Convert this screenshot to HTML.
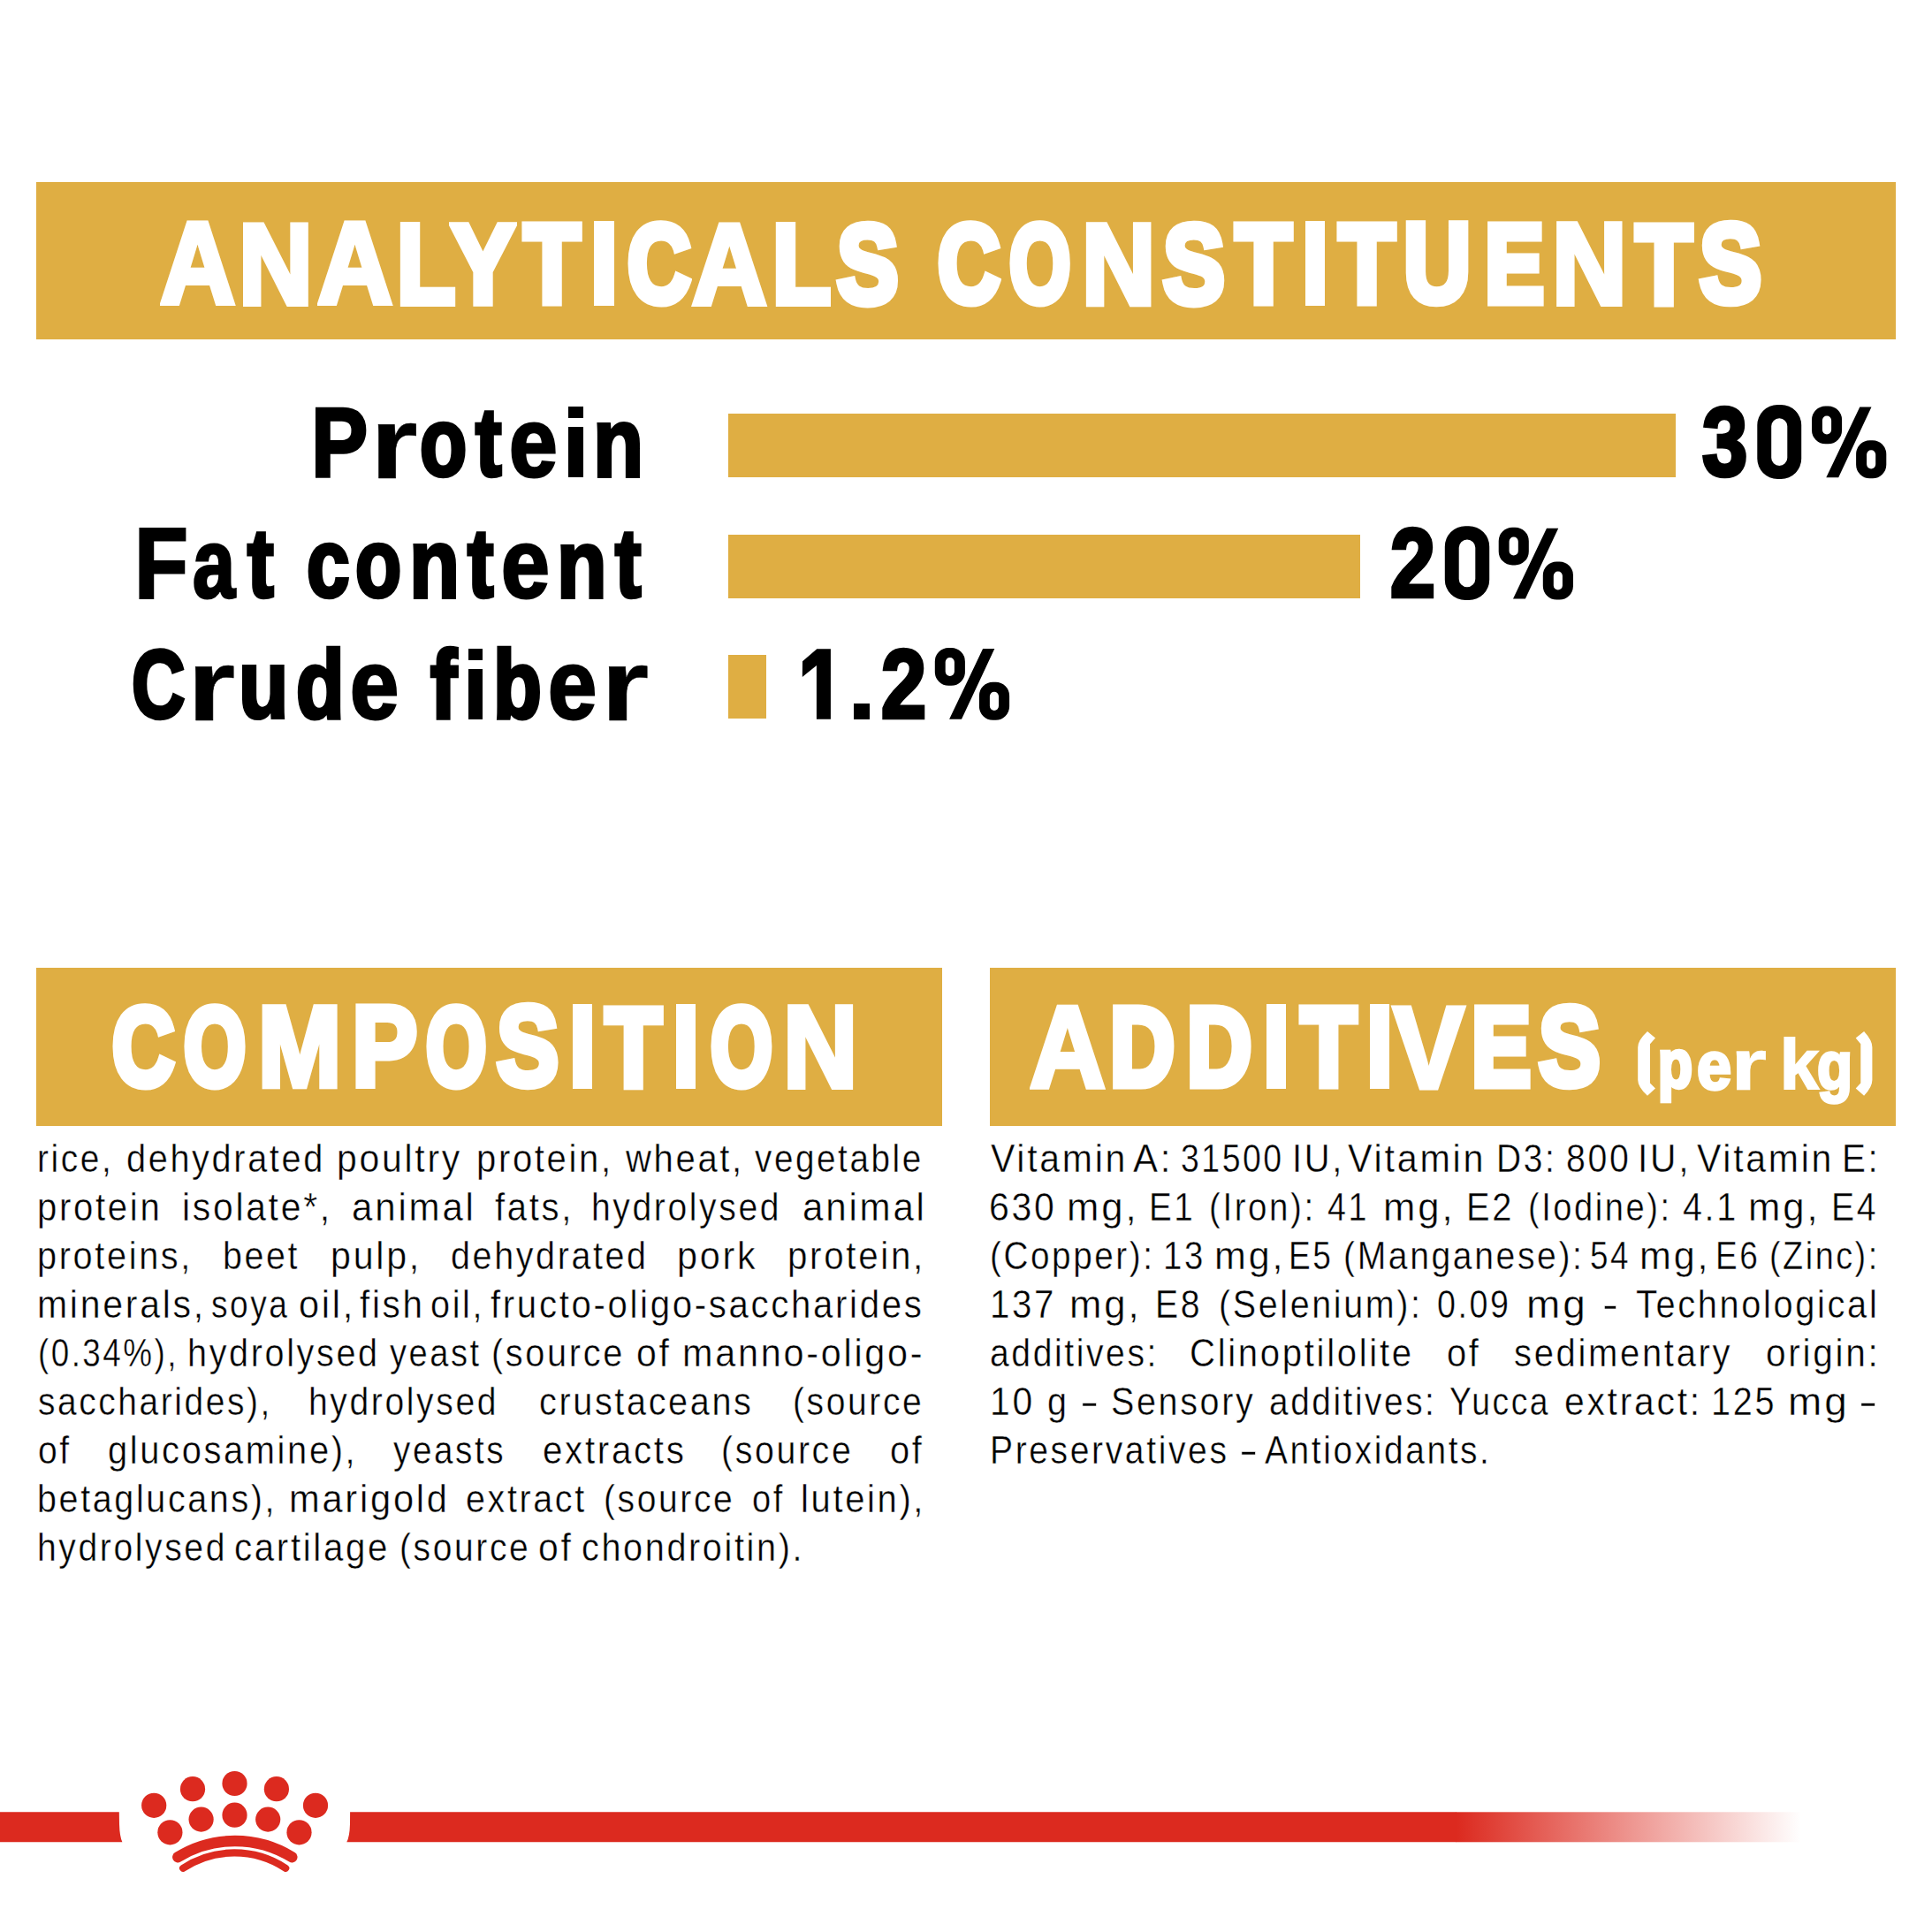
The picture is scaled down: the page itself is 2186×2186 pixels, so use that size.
<!DOCTYPE html>
<html>
<head>
<meta charset="utf-8">
<style>
html,body{margin:0;padding:0;background:#fff;}
body{width:2186px;height:2186px;position:relative;overflow:hidden;font-family:"Liberation Sans",sans-serif;}
.g{position:absolute;background:#DFAE43;}
.t{position:absolute;white-space:nowrap;line-height:1;transform-origin:0 0;font-weight:bold;}
.bl{position:absolute;white-space:nowrap;-webkit-text-stroke:0.45px #fff;font-size:45px;letter-spacing:3px;line-height:55px;height:55px;color:#000;transform-origin:0 0;}
.j{text-align:justify;text-align-last:justify;}
.pr{position:relative;top:-7px;}
.r{position:absolute;}
</style>
</head>
<body>
<div class="g" style="left:41px;top:206px;width:2104px;height:178px;"></div>
<div class="g" style="left:824px;top:468px;width:1072px;height:72px;"></div>
<div class="g" style="left:824px;top:605px;width:715px;height:72px;"></div>
<div class="g" style="left:824px;top:741px;width:43px;height:72px;"></div>
<div class="g" style="left:41px;top:1095px;width:1025px;height:179px;"></div>
<div class="g" style="left:1120px;top:1095px;width:1025px;height:179px;"></div>
<div class="t" style="left:180.81px;top:233.46px;font-size:130.97px;color:#fff;-webkit-text-stroke:5.89px #fff;transform:scaleX(0.8996);">A</div>
<div class="t" style="left:270.11px;top:233.71px;font-size:130.48px;color:#fff;-webkit-text-stroke:6.23px #fff;transform:scaleX(0.8901);">N</div>
<div class="t" style="left:358.81px;top:233.46px;font-size:130.97px;color:#fff;-webkit-text-stroke:5.89px #fff;transform:scaleX(0.8996);">A</div>
<div class="t" style="left:449.18px;top:234.95px;font-size:128.02px;color:#fff;-webkit-text-stroke:7.92px #fff;transform:scaleX(0.8455);">L</div>
<div class="t" style="left:509.86px;top:234.76px;font-size:128.39px;color:#fff;-webkit-text-stroke:7.67px #fff;transform:scaleX(0.8519);">Y</div>
<div class="t" style="left:592.68px;top:235.73px;font-size:126.45px;color:#fff;-webkit-text-stroke:9.0px #fff;transform:scaleX(0.8181);">T</div>
<div class="r" style="left:671.8px;top:250px;width:22.80px;height:96px;background:#fff;"></div>
<div class="t" style="left:709.53px;top:235.73px;font-size:126.45px;color:#fff;-webkit-text-stroke:9.0px #fff;transform:scaleX(0.7823);">C</div>
<div class="t" style="left:783.47px;top:233.57px;font-size:130.76px;color:#fff;-webkit-text-stroke:6.04px #fff;transform:scaleX(0.8954);">A</div>
<div class="t" style="left:874.32px;top:234.98px;font-size:127.94px;color:#fff;-webkit-text-stroke:7.98px #fff;transform:scaleX(0.8440);">L</div>
<div class="t" style="left:946.92px;top:235.64px;font-size:126.65px;color:#fff;-webkit-text-stroke:8.86px #fff;transform:scaleX(0.8226);">S</div>
<div class="t" style="left:1061.22px;top:235.73px;font-size:126.45px;color:#fff;-webkit-text-stroke:9.0px #fff;transform:scaleX(0.7716);">C</div>
<div class="t" style="left:1141.99px;top:235.73px;font-size:126.45px;color:#fff;-webkit-text-stroke:9.0px #fff;transform:scaleX(0.7048);">O</div>
<div class="t" style="left:1224.21px;top:233.81px;font-size:130.28px;color:#fff;-webkit-text-stroke:6.37px #fff;transform:scaleX(0.8862);">N</div>
<div class="t" style="left:1316.20px;top:235.60px;font-size:126.72px;color:#fff;-webkit-text-stroke:8.81px #fff;transform:scaleX(0.8238);">S</div>
<div class="t" style="left:1397.58px;top:235.73px;font-size:126.45px;color:#fff;-webkit-text-stroke:9.0px #fff;transform:scaleX(0.8181);">T</div>
<div class="r" style="left:1476.7px;top:250px;width:22.80px;height:96px;background:#fff;"></div>
<div class="t" style="left:1514.58px;top:235.73px;font-size:126.45px;color:#fff;-webkit-text-stroke:9.0px #fff;transform:scaleX(0.8181);">T</div>
<div class="t" style="left:1588.21px;top:235.42px;font-size:127.08px;color:#fff;-webkit-text-stroke:8.57px #fff;transform:scaleX(0.8296);">U</div>
<div class="t" style="left:1679.50px;top:235.73px;font-size:126.45px;color:#fff;-webkit-text-stroke:9.0px #fff;transform:scaleX(0.7941);">E</div>
<div class="t" style="left:1755.76px;top:233.54px;font-size:130.81px;color:#fff;-webkit-text-stroke:6.0px #fff;transform:scaleX(0.8964);">N</div>
<div class="t" style="left:1851.07px;top:235.70px;font-size:126.52px;color:#fff;-webkit-text-stroke:8.95px #fff;transform:scaleX(0.8205);">T</div>
<div class="t" style="left:1923.25px;top:235.48px;font-size:126.94px;color:#fff;-webkit-text-stroke:8.67px #fff;transform:scaleX(0.8272);">S</div>
<div class="t" style="left:127.22px;top:1121.73px;font-size:126.45px;color:#fff;-webkit-text-stroke:9.0px #fff;transform:scaleX(0.7684);">C</div>
<div class="t" style="left:208.19px;top:1121.73px;font-size:126.45px;color:#fff;-webkit-text-stroke:9.0px #fff;transform:scaleX(0.7128);">O</div>
<div class="t" style="left:291.72px;top:1120.00px;font-size:129.89px;color:#fff;-webkit-text-stroke:6.64px #fff;transform:scaleX(0.8710);">M</div>
<div class="t" style="left:397.61px;top:1120.21px;font-size:129.47px;color:#fff;-webkit-text-stroke:6.93px #fff;transform:scaleX(0.8633);">P</div>
<div class="t" style="left:481.88px;top:1121.73px;font-size:126.45px;color:#fff;-webkit-text-stroke:9.0px #fff;transform:scaleX(0.6958);">O</div>
<div class="t" style="left:562.33px;top:1121.29px;font-size:127.33px;color:#fff;-webkit-text-stroke:8.4px #fff;transform:scaleX(0.8263);">S</div>
<div class="r" style="left:647.6px;top:1136px;width:22.10px;height:96px;background:#fff;"></div>
<div class="t" style="left:685.17px;top:1121.53px;font-size:126.85px;color:#fff;-webkit-text-stroke:8.73px #fff;transform:scaleX(0.8183);">T</div>
<div class="r" style="left:764.8px;top:1136px;width:22.10px;height:96px;background:#fff;"></div>
<div class="t" style="left:803.59px;top:1121.73px;font-size:126.45px;color:#fff;-webkit-text-stroke:9.0px #fff;transform:scaleX(0.7108);">O</div>
<div class="t" style="left:885.82px;top:1119.46px;font-size:130.98px;color:#fff;-webkit-text-stroke:5.88px #fff;transform:scaleX(0.8918);">N</div>
<div class="t" style="left:1164.63px;top:1119.18px;font-size:131.54px;color:#fff;-webkit-text-stroke:5.5px #fff;transform:scaleX(0.9027);">A</div>
<div class="t" style="left:1256.28px;top:1121.73px;font-size:126.45px;color:#fff;-webkit-text-stroke:9.0px #fff;transform:scaleX(0.7997);">D</div>
<div class="t" style="left:1343.37px;top:1121.73px;font-size:126.45px;color:#fff;-webkit-text-stroke:9.0px #fff;transform:scaleX(0.8020);">D</div>
<div class="r" style="left:1433px;top:1136px;width:22.10px;height:96px;background:#fff;"></div>
<div class="t" style="left:1471.65px;top:1121.73px;font-size:126.45px;color:#fff;-webkit-text-stroke:9.0px #fff;transform:scaleX(0.8111);">T</div>
<div class="r" style="left:1549.5px;top:1136px;width:22.50px;height:96px;background:#fff;"></div>
<div class="t" style="left:1576.28px;top:1118.78px;font-size:132.32px;color:#fff;-webkit-text-stroke:4.96px #fff;transform:scaleX(0.9184);">V</div>
<div class="t" style="left:1664.90px;top:1121.73px;font-size:126.45px;color:#fff;-webkit-text-stroke:9.0px #fff;transform:scaleX(0.7941);">E</div>
<div class="t" style="left:1741.20px;top:1121.43px;font-size:127.05px;color:#fff;-webkit-text-stroke:8.59px #fff;transform:scaleX(0.8216);">S</div>
<div class="t" style="left:352.46px;top:445.33px;font-size:111.33px;color:#000;-webkit-text-stroke:3.41px #000;transform:scaleX(0.8647);">P</div>
<div class="t" style="left:418.66px;top:443.21px;font-size:115.55px;color:#000;-webkit-text-stroke:0.5px #000;transform:scaleX(1.1964);">r</div>
<div class="t" style="left:475.26px;top:446.13px;font-size:109.74px;color:#000;-webkit-text-stroke:4.5px #000;transform:scaleX(0.7936);">o</div>
<div class="t" style="left:537.52px;top:446.13px;font-size:109.74px;color:#000;-webkit-text-stroke:4.5px #000;transform:scaleX(0.8072);">t</div>
<div class="t" style="left:576.35px;top:445.05px;font-size:111.9px;color:#000;-webkit-text-stroke:3.01px #000;transform:scaleX(0.8786);">e</div>
<div class="r" style="left:642.7px;top:460.00px;width:17.20px;height:13.4px;background:#000;"></div>
<div class="r" style="left:642.7px;top:483.00px;width:17.20px;height:57px;background:#000;"></div>
<div class="t" style="left:670.83px;top:445.73px;font-size:110.53px;color:#000;-webkit-text-stroke:3.96px #000;transform:scaleX(0.8459);">n</div>
<div class="t" style="left:152.11px;top:582.08px;font-size:112.24px;color:#000;-webkit-text-stroke:2.78px #000;transform:scaleX(0.8870);">F</div>
<div class="t" style="left:217.69px;top:582.38px;font-size:111.63px;color:#000;-webkit-text-stroke:3.2px #000;transform:scaleX(0.7736);">a</div>
<div class="t" style="left:280.12px;top:583.33px;font-size:109.74px;color:#000;-webkit-text-stroke:4.5px #000;transform:scaleX(0.8097);">t</div>
<div class="t" style="left:346.96px;top:583.33px;font-size:109.74px;color:#000;-webkit-text-stroke:4.5px #000;transform:scaleX(0.7950);">c</div>
<div class="t" style="left:401.68px;top:583.33px;font-size:109.74px;color:#000;-webkit-text-stroke:4.5px #000;transform:scaleX(0.7781);">o</div>
<div class="t" style="left:462.73px;top:582.93px;font-size:110.53px;color:#000;-webkit-text-stroke:3.96px #000;transform:scaleX(0.8459);">n</div>
<div class="t" style="left:529.41px;top:583.33px;font-size:109.74px;color:#000;-webkit-text-stroke:4.5px #000;transform:scaleX(0.8048);">t</div>
<div class="t" style="left:567.22px;top:582.21px;font-size:111.98px;color:#000;-webkit-text-stroke:2.96px #000;transform:scaleX(0.8804);">e</div>
<div class="t" style="left:630.04px;top:583.07px;font-size:110.27px;color:#000;-webkit-text-stroke:4.13px #000;transform:scaleX(0.8403);">n</div>
<div class="t" style="left:696.21px;top:583.33px;font-size:109.74px;color:#000;-webkit-text-stroke:4.5px #000;transform:scaleX(0.8048);">t</div>
<div class="t" style="left:148.70px;top:719.63px;font-size:109.74px;color:#000;-webkit-text-stroke:4.5px #000;transform:scaleX(0.7618);">C</div>
<div class="t" style="left:212.38px;top:716.71px;font-size:115.55px;color:#000;-webkit-text-stroke:0.5px #000;transform:scaleX(1.2073);">r</div>
<div class="t" style="left:269.93px;top:719.41px;font-size:110.19px;color:#000;-webkit-text-stroke:4.19px #000;transform:scaleX(0.8383);">u</div>
<div class="t" style="left:335.34px;top:719.63px;font-size:109.74px;color:#000;-webkit-text-stroke:4.5px #000;transform:scaleX(0.8136);">d</div>
<div class="t" style="left:395.76px;top:718.43px;font-size:112.13px;color:#000;-webkit-text-stroke:2.85px #000;transform:scaleX(0.8843);">e</div>
<div class="t" style="left:487.14px;top:719.63px;font-size:109.74px;color:#000;-webkit-text-stroke:4.5px #000;transform:scaleX(0.8196);">f</div>
<div class="r" style="left:529.6px;top:733.50px;width:16.80px;height:13.4px;background:#000;"></div>
<div class="r" style="left:529.6px;top:756.50px;width:16.80px;height:57px;background:#000;"></div>
<div class="t" style="left:558.33px;top:719.63px;font-size:109.74px;color:#000;-webkit-text-stroke:4.5px #000;transform:scaleX(0.8185);">b</div>
<div class="t" style="left:620.26px;top:718.43px;font-size:112.13px;color:#000;-webkit-text-stroke:2.85px #000;transform:scaleX(0.8843);">e</div>
<div class="t" style="left:679.58px;top:716.71px;font-size:115.55px;color:#000;-webkit-text-stroke:0.5px #000;transform:scaleX(1.2073);">r</div>
<div class="t" style="left:1926.15px;top:446.13px;font-size:109.74px;color:#000;-webkit-text-stroke:4.5px #000;transform:scaleX(0.8398);">3</div>
<svg class="r" style="left:0;top:0;" width="2186" height="900"><path fill-rule="evenodd" d="M2011.25 458.10 L2015.25 458.10 A22.95 22.95 0 0 1 2038.20 481.05 L2038.20 518.95 A22.95 22.95 0 0 1 2015.25 541.90 L2011.25 541.90 A22.95 22.95 0 0 1 1988.30 518.95 L1988.30 481.05 A22.95 22.95 0 0 1 2011.25 458.10 Z M2013.25 473.30 L2013.25 473.30 A9.05 9.05 0 0 1 2022.30 482.35 L2022.30 517.95 A9.05 9.05 0 0 1 2013.25 527.00 L2013.25 527.00 A9.05 9.05 0 0 1 2004.20 517.95 L2004.20 482.35 A9.05 9.05 0 0 1 2013.25 473.30 Z" fill="#000"/></svg>
<svg class="r" style="left:0;top:0;" width="2186" height="900"><path fill-rule="evenodd" d="M2065.50 459.50 L2068.60 459.50 A15.50 15.50 0 0 1 2084.10 475.00 L2084.10 486.70 A15.50 15.50 0 0 1 2068.60 502.20 L2065.50 502.20 A15.50 15.50 0 0 1 2050.00 486.70 L2050.00 475.00 A15.50 15.50 0 0 1 2065.50 459.50 Z M2067.00 470.40 L2067.00 470.40 A5.10 5.10 0 0 1 2072.10 475.50 L2072.10 486.30 A5.10 5.10 0 0 1 2067.00 491.40 L2067.00 491.40 A5.10 5.10 0 0 1 2061.90 486.30 L2061.90 475.50 A5.10 5.10 0 0 1 2067.00 470.40 Z M2115.60 498.30 L2118.80 498.30 A15.50 15.50 0 0 1 2134.30 513.80 L2134.30 525.80 A15.50 15.50 0 0 1 2118.80 541.30 L2115.60 541.30 A15.50 15.50 0 0 1 2100.10 525.80 L2100.10 513.80 A15.50 15.50 0 0 1 2115.60 498.30 Z M2117.15 509.20 L2117.15 509.20 A5.05 5.05 0 0 1 2122.20 514.25 L2122.20 525.35 A5.05 5.05 0 0 1 2117.15 530.40 L2117.15 530.40 A5.05 5.05 0 0 1 2112.10 525.35 L2112.10 514.25 A5.05 5.05 0 0 1 2117.15 509.20 Z M2104.30 460.60 L2117.50 460.60 L2080.20 540.30 L2066.30 540.30 Z" fill="#000"/></svg>
<div class="t" style="left:1572.91px;top:583.33px;font-size:109.74px;color:#000;-webkit-text-stroke:4.5px #000;transform:scaleX(0.8354);">2</div>
<svg class="r" style="left:0;top:0;" width="2186" height="900"><path fill-rule="evenodd" d="M1657.98 595.30 L1662.02 595.30 A23.18 23.18 0 0 1 1685.20 618.48 L1685.20 655.92 A23.18 23.18 0 0 1 1662.02 679.10 L1657.98 679.10 A23.18 23.18 0 0 1 1634.80 655.92 L1634.80 618.48 A23.18 23.18 0 0 1 1657.98 595.30 Z M1660.00 610.50 L1660.00 610.50 A9.30 9.30 0 0 1 1669.30 619.80 L1669.30 654.90 A9.30 9.30 0 0 1 1660.00 664.20 L1660.00 664.20 A9.30 9.30 0 0 1 1650.70 654.90 L1650.70 619.80 A9.30 9.30 0 0 1 1660.00 610.50 Z" fill="#000"/></svg>
<svg class="r" style="left:0;top:0;" width="2186" height="900"><path fill-rule="evenodd" d="M1711.20 596.70 L1714.30 596.70 A15.50 15.50 0 0 1 1729.80 612.20 L1729.80 623.90 A15.50 15.50 0 0 1 1714.30 639.40 L1711.20 639.40 A15.50 15.50 0 0 1 1695.70 623.90 L1695.70 612.20 A15.50 15.50 0 0 1 1711.20 596.70 Z M1712.70 607.60 L1712.70 607.60 A5.10 5.10 0 0 1 1717.80 612.70 L1717.80 623.50 A5.10 5.10 0 0 1 1712.70 628.60 L1712.70 628.60 A5.10 5.10 0 0 1 1707.60 623.50 L1707.60 612.70 A5.10 5.10 0 0 1 1712.70 607.60 Z M1761.30 635.50 L1764.50 635.50 A15.50 15.50 0 0 1 1780.00 651.00 L1780.00 663.00 A15.50 15.50 0 0 1 1764.50 678.50 L1761.30 678.50 A15.50 15.50 0 0 1 1745.80 663.00 L1745.80 651.00 A15.50 15.50 0 0 1 1761.30 635.50 Z M1762.85 646.40 L1762.85 646.40 A5.05 5.05 0 0 1 1767.90 651.45 L1767.90 662.55 A5.05 5.05 0 0 1 1762.85 667.60 L1762.85 667.60 A5.05 5.05 0 0 1 1757.80 662.55 L1757.80 651.45 A5.05 5.05 0 0 1 1762.85 646.40 Z M1750.00 597.80 L1763.20 597.80 L1725.90 677.50 L1712.00 677.50 Z" fill="#000"/></svg>
<svg class="r" style="left:0;top:0;" width="1000" height="820" viewBox="0 0 1000 820"><path d="M924.3 734.2 L939.9 734.2 L939.9 813.8 L923.9 813.8 L923.9 753 L907.8 765.9 L908 748.3 Z" fill="#000"/></svg>
<div class="r" style="left:965.6px;top:796.2px;width:18.3px;height:17.6px;background:#000;"></div>
<div class="t" style="left:996.71px;top:719.63px;font-size:109.74px;color:#000;-webkit-text-stroke:4.5px #000;transform:scaleX(0.8371);">2</div>
<svg class="r" style="left:0;top:0;" width="2186" height="900"><path fill-rule="evenodd" d="M1073.30 733.00 L1076.40 733.00 A15.50 15.50 0 0 1 1091.90 748.50 L1091.90 760.20 A15.50 15.50 0 0 1 1076.40 775.70 L1073.30 775.70 A15.50 15.50 0 0 1 1057.80 760.20 L1057.80 748.50 A15.50 15.50 0 0 1 1073.30 733.00 Z M1074.80 743.90 L1074.80 743.90 A5.10 5.10 0 0 1 1079.90 749.00 L1079.90 759.80 A5.10 5.10 0 0 1 1074.80 764.90 L1074.80 764.90 A5.10 5.10 0 0 1 1069.70 759.80 L1069.70 749.00 A5.10 5.10 0 0 1 1074.80 743.90 Z M1123.40 771.80 L1126.60 771.80 A15.50 15.50 0 0 1 1142.10 787.30 L1142.10 799.30 A15.50 15.50 0 0 1 1126.60 814.80 L1123.40 814.80 A15.50 15.50 0 0 1 1107.90 799.30 L1107.90 787.30 A15.50 15.50 0 0 1 1123.40 771.80 Z M1124.95 782.70 L1124.95 782.70 A5.05 5.05 0 0 1 1130.00 787.75 L1130.00 798.85 A5.05 5.05 0 0 1 1124.95 803.90 L1124.95 803.90 A5.05 5.05 0 0 1 1119.90 798.85 L1119.90 787.75 A5.05 5.05 0 0 1 1124.95 782.70 Z M1112.10 734.10 L1125.30 734.10 L1088.00 813.80 L1074.10 813.80 Z" fill="#000"/></svg>
<svg class="r" style="left:0;top:0;" width="2186" height="1300"><path d="M1864 1167 L1873 1174.5 L1867 1181.3 L1867 1225.5 L1873 1231.6 L1864 1239.8 Q1853.2 1230 1853.2 1222 L1853.2 1185 Q1853.2 1177 1864 1167 Z" fill="#fff"/></svg>
<div class="t" style="left:1876.22px;top:1167.49px;font-size:75.42px;color:#fff;-webkit-text-stroke:4.5px #fff;transform:scaleX(0.8458);">p</div>
<div class="t" style="left:1919.71px;top:1166.81px;font-size:76.82px;color:#fff;-webkit-text-stroke:3.5px #fff;transform:scaleX(0.9139);">e</div>
<div class="t" style="left:1957.50px;top:1164.76px;font-size:81.01px;color:#fff;-webkit-text-stroke:0.5px #fff;transform:scaleX(1.3093);">r</div>
<div class="t" style="left:2014.01px;top:1165.82px;font-size:78.85px;color:#fff;-webkit-text-stroke:2.04px #fff;transform:scaleX(0.9960);">k</div>
<div class="t" style="left:2056.34px;top:1166.81px;font-size:76.82px;color:#fff;-webkit-text-stroke:3.5px #fff;transform:scaleX(0.8536);">g</div>
<svg class="r" style="left:0;top:0;" width="2186" height="1300"><path d="M2109.1 1167 L2099.7 1174.5 L2105.3 1181.3 L2105.3 1225.5 L2099.7 1231.6 L2109.1 1239.8 Q2118.4 1230 2118.4 1222 L2118.4 1185 Q2118.4 1177 2109.1 1167 Z" fill="#fff"/></svg>
<div class="bl" style="left:42.47px;top:1282.90px;transform:scaleX(0.8633);">rice,</div>
<div class="bl" style="left:143.12px;top:1282.90px;transform:scaleX(0.8814);">dehydrated</div>
<div class="bl" style="left:381.48px;top:1282.90px;transform:scaleX(0.9098);">poultry</div>
<div class="bl" style="left:538.62px;top:1282.90px;transform:scaleX(0.8889);">protein,</div>
<div class="bl" style="left:707.79px;top:1282.90px;transform:scaleX(0.8892);">wheat,</div>
<div class="bl" style="left:854.10px;top:1282.90px;transform:scaleX(0.8586);">vegetable</div>
<div class="bl" style="left:42.42px;top:1337.90px;transform:scaleX(0.8920);">protein</div>
<div class="bl" style="left:206.38px;top:1337.90px;transform:scaleX(0.9077);">isolate*,</div>
<div class="bl" style="left:397.97px;top:1337.90px;transform:scaleX(0.9348);">animal</div>
<div class="bl" style="left:560.20px;top:1337.90px;transform:scaleX(0.8895);">fats,</div>
<div class="bl" style="left:669.39px;top:1337.90px;transform:scaleX(0.8686);">hydrolysed</div>
<div class="bl" style="left:907.77px;top:1337.90px;transform:scaleX(0.9348);">animal</div>
<div class="bl" style="left:42.44px;top:1392.90px;transform:scaleX(0.8818);">proteins,</div>
<div class="bl" style="left:251.55px;top:1392.90px;transform:scaleX(0.8750);">beet</div>
<div class="bl" style="left:373.67px;top:1392.90px;transform:scaleX(0.9147);">pulp,</div>
<div class="bl" style="left:509.92px;top:1392.90px;transform:scaleX(0.8766);">dehydrated</div>
<div class="bl" style="left:766.46px;top:1392.90px;transform:scaleX(0.9196);">pork</div>
<div class="bl" style="left:891.31px;top:1392.90px;transform:scaleX(0.8956);">protein,</div>
<div class="bl" style="left:42.38px;top:1447.90px;transform:scaleX(0.9107);">minerals,</div>
<div class="bl" style="left:239.48px;top:1447.90px;transform:scaleX(0.8248);">soya</div>
<div class="bl" style="left:338.18px;top:1447.90px;transform:scaleX(0.9223);">oil,</div>
<div class="bl" style="left:406.70px;top:1447.90px;transform:scaleX(0.8987);">fish</div>
<div class="bl" style="left:486.52px;top:1447.90px;transform:scaleX(0.8803);">oil,</div>
<div class="bl" style="left:555.00px;top:1447.90px;transform:scaleX(0.8921);">fructo-oligo-saccharides</div>
<div class="bl" style="left:42.56px;top:1502.90px;transform:scaleX(0.8186);">(0.34%),</div>
<div class="bl" style="left:211.66px;top:1502.90px;transform:scaleX(0.8790);">hydrolysed</div>
<div class="bl" style="left:440.50px;top:1502.90px;transform:scaleX(0.8455);">yeast</div>
<div class="bl" style="left:555.84px;top:1502.90px;transform:scaleX(0.8823);">(source</div>
<div class="bl" style="left:720.49px;top:1502.90px;transform:scaleX(0.9119);">of</div>
<div class="bl" style="left:771.66px;top:1502.90px;transform:scaleX(0.9186);">manno-oligo-</div>
<div class="bl" style="left:43.34px;top:1557.90px;transform:scaleX(0.8643);">saccharides),</div>
<div class="bl" style="left:349.49px;top:1557.90px;transform:scaleX(0.8686);">hydrolysed</div>
<div class="bl" style="left:610.32px;top:1557.90px;transform:scaleX(0.8800);">crustaceans</div>
<div class="bl" style="left:896.57px;top:1557.90px;transform:scaleX(0.8671);">(source</div>
<div class="bl" style="left:43.33px;top:1612.90px;transform:scaleX(0.8694);">of</div>
<div class="bl" style="left:122.32px;top:1612.90px;transform:scaleX(0.8847);">glucosamine),</div>
<div class="bl" style="left:444.70px;top:1612.90px;transform:scaleX(0.8589);">yeasts</div>
<div class="bl" style="left:613.90px;top:1612.90px;transform:scaleX(0.8952);">extracts</div>
<div class="bl" style="left:815.95px;top:1612.90px;transform:scaleX(0.8732);">(source</div>
<div class="bl" style="left:1006.62px;top:1612.90px;transform:scaleX(0.8844);">of</div>
<div class="bl" style="left:42.45px;top:1667.90px;transform:scaleX(0.8770);">betaglucans),</div>
<div class="bl" style="left:326.85px;top:1667.90px;transform:scaleX(0.9248);">marigold</div>
<div class="bl" style="left:527.02px;top:1667.90px;transform:scaleX(0.8765);">extract</div>
<div class="bl" style="left:683.27px;top:1667.90px;transform:scaleX(0.8671);">(source</div>
<div class="bl" style="left:850.66px;top:1667.90px;transform:scaleX(0.8444);">of</div>
<div class="bl" style="left:906.04px;top:1667.90px;transform:scaleX(0.8872);">lutein),</div>
<div class="bl" style="left:41.60px;top:1722.90px;transform:scaleX(0.8681);">hydrolysed</div>
<div class="bl" style="left:265.41px;top:1722.90px;transform:scaleX(0.8935);">cartilage</div>
<div class="bl" style="left:451.77px;top:1722.90px;transform:scaleX(0.8671);">(source</div>
<div class="bl" style="left:608.69px;top:1722.90px;transform:scaleX(0.9094);">of</div>
<div class="bl" style="left:658.12px;top:1722.90px;transform:scaleX(0.8795);">chondroitin).</div>
<div class="bl" style="left:1121.30px;top:1282.90px;transform:scaleX(0.9110);">Vitamin</div>
<div class="bl" style="left:1282.30px;top:1282.90px;transform:scaleX(0.9330);">A:</div>
<div class="bl" style="left:1336.37px;top:1282.90px;transform:scaleX(0.8319);">31500</div>
<div class="bl" style="left:1461.76px;top:1282.90px;transform:scaleX(0.8857);">IU,</div>
<div class="bl" style="left:1525.40px;top:1282.90px;transform:scaleX(0.9176);">Vitamin</div>
<div class="bl" style="left:1692.71px;top:1282.90px;transform:scaleX(0.8644);">D3:</div>
<div class="bl" style="left:1771.73px;top:1282.90px;transform:scaleX(0.8728);">800</div>
<div class="bl" style="left:1852.68px;top:1282.90px;transform:scaleX(0.9054);">IU,</div>
<div class="bl" style="left:1920.10px;top:1282.90px;transform:scaleX(0.9110);">Vitamin</div>
<div class="bl" style="left:2083.61px;top:1282.90px;transform:scaleX(0.8971);">E:</div>
<div class="bl" style="left:1119.48px;top:1337.90px;transform:scaleX(0.9109);">630</div>
<div class="bl" style="left:1207.16px;top:1337.90px;transform:scaleX(0.9694);">mg,</div>
<div class="bl" style="left:1299.53px;top:1337.90px;transform:scaleX(0.8583);">E1</div>
<div class="bl" style="left:1368.39px;top:1337.90px;transform:scaleX(0.8558);">(Iron):</div>
<div class="bl" style="left:1502.06px;top:1337.90px;transform:scaleX(0.8356);">41</div>
<div class="bl" style="left:1565.26px;top:1337.90px;transform:scaleX(0.9694);">mg,</div>
<div class="bl" style="left:1658.64px;top:1337.90px;transform:scaleX(0.8865);">E2</div>
<div class="bl" style="left:1729.11px;top:1337.90px;transform:scaleX(0.8460);">(Iodine):</div>
<div class="bl" style="left:1903.52px;top:1337.90px;transform:scaleX(0.8775);">4.1</div>
<div class="bl" style="left:1978.26px;top:1337.90px;transform:scaleX(0.9694);">mg,</div>
<div class="bl" style="left:2071.69px;top:1337.90px;transform:scaleX(0.8701);">E4</div>
<div class="bl" style="left:1119.58px;top:1392.90px;transform:scaleX(0.8597);">(Copper):</div>
<div class="bl" style="left:1316.34px;top:1392.90px;transform:scaleX(0.8526);">13</div>
<div class="bl" style="left:1374.49px;top:1392.90px;transform:scaleX(0.9548);">mg,</div>
<div class="bl" style="left:1457.53px;top:1392.90px;transform:scaleX(0.8239);">E5</div>
<div class="bl" style="left:1519.96px;top:1392.90px;transform:scaleX(0.8688);">(Manganese):</div>
<div class="bl" style="left:1798.98px;top:1392.90px;transform:scaleX(0.8192);">54</div>
<div class="bl" style="left:1855.39px;top:1392.90px;transform:scaleX(0.9561);">mg,</div>
<div class="bl" style="left:1941.13px;top:1392.90px;transform:scaleX(0.8220);">E6</div>
<div class="bl" style="left:2002.02px;top:1392.90px;transform:scaleX(0.8401);">(Zinc):</div>
<div class="bl" style="left:1120.12px;top:1447.90px;transform:scaleX(0.8941);">137</div>
<div class="bl" style="left:1209.76px;top:1447.90px;transform:scaleX(0.9694);">mg,</div>
<div class="bl" style="left:1306.89px;top:1447.90px;transform:scaleX(0.8701);">E8</div>
<div class="bl" style="left:1378.85px;top:1447.90px;transform:scaleX(0.8768);">(Selenium):</div>
<div class="bl" style="left:1626.46px;top:1447.90px;transform:scaleX(0.8380);">0.09</div>
<div class="bl" style="left:1727.26px;top:1447.90px;transform:scaleX(1.0198);">mg</div>
<div class="bl" style="left:1813.12px;top:1447.90px;transform:scaleX(1.1909);">-</div>
<div class="bl" style="left:1851.22px;top:1447.90px;transform:scaleX(0.8835);">Technological</div>
<div class="bl" style="left:1120.43px;top:1502.90px;transform:scaleX(0.8678);">additives:</div>
<div class="bl" style="left:1345.82px;top:1502.90px;transform:scaleX(0.8913);">Clinoptilolite</div>
<div class="bl" style="left:1636.91px;top:1502.90px;transform:scaleX(0.8869);">of</div>
<div class="bl" style="left:1712.71px;top:1502.90px;transform:scaleX(0.8889);">sedimentary</div>
<div class="bl" style="left:1997.60px;top:1502.90px;transform:scaleX(0.9025);">origin:</div>
<div class="bl" style="left:1120.08px;top:1557.90px;transform:scaleX(0.9077);">10</div>
<div class="bl" style="left:1184.72px;top:1557.90px;transform:scaleX(0.8773);">g</div>
<div class="bl" style="left:1221.95px;top:1557.90px;transform:scaleX(1.4273);">-</div>
<div class="bl" style="left:1257.04px;top:1557.90px;transform:scaleX(0.8778);">Sensory</div>
<div class="bl" style="left:1435.64px;top:1557.90px;transform:scaleX(0.8608);">additives:</div>
<div class="bl" style="left:1640.40px;top:1557.90px;transform:scaleX(0.8292);">Yucca</div>
<div class="bl" style="left:1770.19px;top:1557.90px;transform:scaleX(0.9083);">extract:</div>
<div class="bl" style="left:1935.76px;top:1557.90px;transform:scaleX(0.8812);">125</div>
<div class="bl" style="left:2022.56px;top:1557.90px;transform:scaleX(1.0198);">mg</div>
<div class="bl" style="left:2102.75px;top:1557.90px;transform:scaleX(1.4273);">-</div>
<div class="bl" style="left:1120.20px;top:1612.90px;transform:scaleX(0.8682);">Preservatives</div>
<div class="bl" style="left:1402.25px;top:1612.90px;transform:scaleX(1.4273);">-</div>
<div class="bl" style="left:1431.30px;top:1612.90px;transform:scaleX(0.8647);">Antioxidants.</div>
<svg style="position:absolute;left:0;top:1990px;" width="2186" height="150" viewBox="0 1990 2186 150">
<defs><linearGradient id="fade" x1="1648" y1="0" x2="2038" y2="0" gradientUnits="userSpaceOnUse">
<stop offset="0" stop-color="#DC2A1F" stop-opacity="1"/><stop offset="1" stop-color="#DC2A1F" stop-opacity="0"/></linearGradient></defs>
<path d="M0 2050.3 L134.8 2050.3 L135 2064 Q135.4 2078 138.4 2084.3 L0 2084.3 Z" fill="#DC2A1F"/>
<path d="M396.1 2050.3 L1648 2050.3 L1648 2084.3 L392.3 2084.3 Q395.6 2078 396 2064 Z" fill="#DC2A1F"/>
<rect x="1647.5" y="2050.3" width="391" height="34" fill="url(#fade)"/>
<g fill="#DC2A1F">
<circle cx="174.2" cy="2042.8" r="14.1"/><circle cx="218" cy="2024.2" r="14.1"/><circle cx="265.5" cy="2018" r="14.1"/>
<circle cx="312.9" cy="2024.2" r="14.1"/><circle cx="357" cy="2042.8" r="14.1"/><circle cx="192.4" cy="2073.3" r="14.1"/>
<circle cx="227.6" cy="2058.6" r="14.1"/><circle cx="265.5" cy="2053.7" r="14.1"/><circle cx="303.2" cy="2058.6" r="14.1"/>
<circle cx="338.5" cy="2073.3" r="14.1"/></g>
<g fill="none" stroke="#DC2A1F" stroke-linecap="round">
<path d="M201.2 2101.3 A123.2 123.2 0 0 1 330.4 2101.3" stroke-width="12.3"/>
<path d="M207.1 2113.8 A105.5 105.5 0 0 1 323.2 2113.8" stroke-width="8.2"/></g>
</svg>
</body>
</html>
